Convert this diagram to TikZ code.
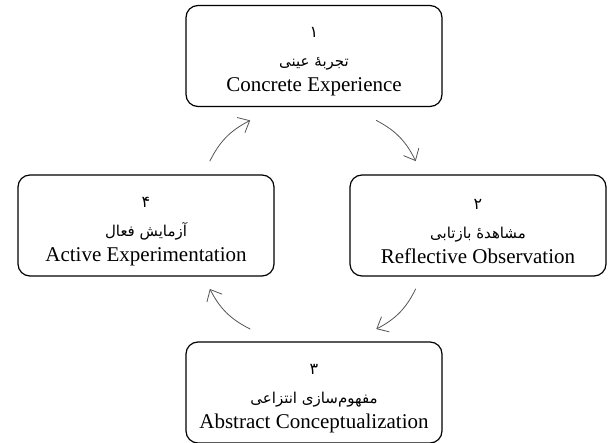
\documentclass[tikz,border=0pt]{standalone}
\usepackage{fontspec}
\setmainfont{Liberation Serif}
\newfontfamily\fafont[Script=Arabic]{DejaVu Sans}
\TeXXeTstate=1
\usetikzlibrary{arrows.meta, calc}
\definecolor{c1}{HTML}{555555}
\newcommand{\fa}[1]{{\fafont\fontsize{15}{17}\selectfont\beginR #1\endR}}
\newcommand{\fanum}[1]{{\fafont\fontsize{16}{18}\selectfont\rule{0pt}{22pt}\beginR #1\endR}}

\begin{document}
\begin{tikzpicture}[
  font=\fontsize{21}{25}\selectfont, x=1pt, y=-1pt,
  line cap=round, line join=round,
  box/.style={draw=black, fill=white, rounded corners=12pt, line width=1.2pt,
              align=center, inner sep=0pt, minimum width=256pt, minimum height=101pt},
  cyc/.style={-{Straight Barb[length=3.4mm,width=6mm]}, draw=c1, line width=0.8pt,
              bend left=18},
]
\useasboundingbox (0,0) rectangle (610,443);

\node[box] (ce) at (314, 56.0) {\fanum{۱}\\[4pt] \fa{تجربه^^^^0654 عینی}\\ Concrete Experience};
\node[box] (ro) at (478,225.5) {\fanum{۲}\\[4pt] \fa{مشاهده^^^^0654 بازتابی}\\ Reflective Observation};
\node[box] (ac) at (314,392.5) {\fanum{۳}\\[4pt] \fa{مفهوم^^^^200cسازی انتزاعی}\\ Abstract Conceptualization};
\node[box] (ae) at (146,225.5) {\fanum{۴}\\[4pt] \fa{آزمایش فعال}\\ Active Experimentation};

\coordinate (s1) at ($(ae)!0.38!(ce)$);
\coordinate (e1) at ($(ae)!0.62!(ce)$);
\coordinate (s2) at ($(ce)!0.38!(ro)$);
\coordinate (e2) at ($(ce)!0.62!(ro)$);
\coordinate (s3) at ($(ro)!0.38!(ac)$);
\coordinate (e3) at ($(ro)!0.62!(ac)$);
\coordinate (s4) at ($(ac)!0.38!(ae)$);
\coordinate (e4) at ($(ac)!0.62!(ae)$);

\draw[cyc] (s1) to (e1);
\draw[cyc] (s2) to (e2);
\draw[cyc] (s3) to (e3);
\draw[cyc] (s4) to (e4);
\end{tikzpicture}
\end{document}
